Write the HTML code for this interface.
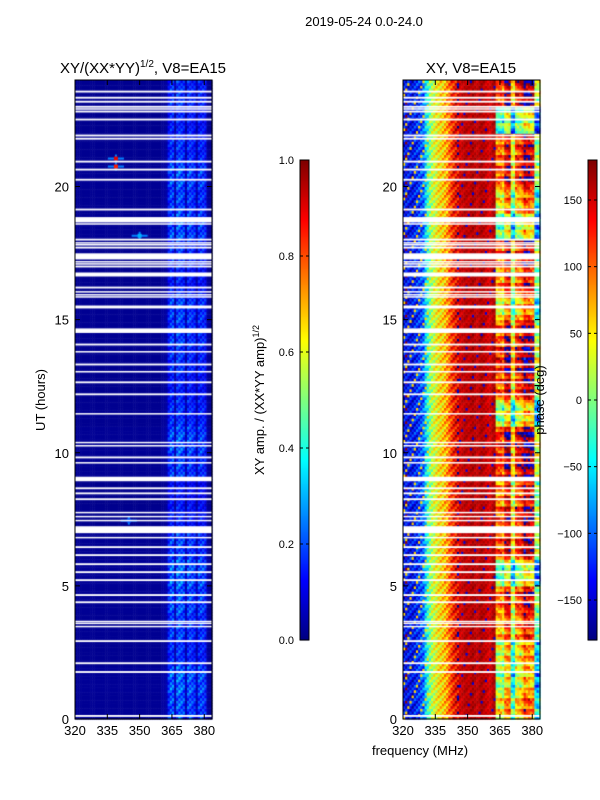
<!DOCTYPE html>
<html><head><meta charset="utf-8"><style>
body{margin:0;background:#fff;width:600px;height:800px;overflow:hidden;font-family:"Liberation Sans",sans-serif}
#root{position:relative;width:600px;height:800px}
canvas{position:absolute;left:0;top:0}
svg{position:absolute;left:0;top:0}
</style></head><body>
<div id="root">
<canvas id="cv" width="600" height="800"></canvas>
<svg id="sv" width="600" height="800">
<text x="364" y="26" font-size="13" text-anchor="middle">2019-05-24 0.0-24.0</text>
<text x="143" y="73" font-size="15" text-anchor="middle">XY/(XX*YY)<tspan font-size="10" dy="-6">1/2</tspan><tspan dy="6">, V8=EA15</tspan></text>
<text x="471" y="73" font-size="15" text-anchor="middle">XY, V8=EA15</text>
<text transform="translate(45,400) rotate(-90)" font-size="13" text-anchor="middle">UT (hours)</text>
<text x="420" y="755" font-size="13" text-anchor="middle">frequency (MHz)</text>
<text transform="translate(264,400) rotate(-90)" font-size="13" text-anchor="middle">XY amp. / (XX*YY amp)<tspan font-size="9" dy="-5">1/2</tspan></text>
<text transform="translate(544,400) rotate(-90)" font-size="13" text-anchor="middle">phase (deg)</text>
<g id="g"></g>
</svg>
</div>
<script>
// ---- data ----
const freqStart = 320, freqEnd = 383.6, freqStep = 1;
const hourStep = 0.1;
// amplitude profile per 1 MHz bin (320..383)
const ampCols = [0.02,0.02,0.02,0.02,0.02,0.02,0.02,0.02,0.02,0.02,0.02,0.02,0.02,0.02,0.02,0.02,
0.02,0.02,0.02,0.02,0.02,0.02,0.02,0.02,0.02,0.02,0.02,0.02,0.02,0.02,0.02,0.02,
0.02,0.02,0.02,0.02,0.02,0.02,0.02,0.02,0.03,0.03,0.04,0.14,0.19,0.18,0.05,0.19,
0.2,0.19,0.17,0.05,0.17,0.18,0.16,0.15,0.05,0.16,0.17,0.16,0.14,0.03,0.02,0.02];
// amplitude modulation per hour (0..23)
const ampHours = [1.1,1.2,0.9,1.0,1.1,1.2,1.0,0.8,0.7,1.0,1.1,0.9,0.8,0.9,1.0,1.0,0.8,0.9,1.1,1.0,1.1,0.9,0.8,0.9];
// phase profile per 1 MHz bin (deg)
const phaseCols = [-140,-145,-140,-135,-140,-130,-125,-120,-110,-100,-60,-30,0,20,30,40,
50,55,60,70,80,100,115,130,140,145,150,155,160,160,155,160,
165,160,155,160,165,160,155,150,150,160,165,40,45,50,30,90,
95,100,-10,-20,60,70,65,80,120,100,110,95,100,-40,-50,-30];
// phase shift for high-frequency band per hour
const phaseHours = [-20,-60,-40,0,30,-80,40,40,20,50,60,-60,40,60,40,-30,20,40,-70,-20,40,30,-90,50];
// RFI spots: [hour, MHz, amp]
const rfiSpots = [[21.05,339,0.9],[20.75,339,0.85],[18.15,350,0.3],[7.45,345,0.2]];
// flagged (blank) rows: [hour, duration]
const gaps = [[23.53,0.07],[23.3,0.07],[23.15,0.07],[22.96,0.07],[22.89,0.05],[22.78,0.07],[22.48,0.07],[21.88,0.07],[21.76,0.07],
[20.9,0.07],[20.6,0.07],[20.22,0.07],[19.1,0.07],[18.65,0.2],[18.57,0.05],[17.97,0.07],[17.86,0.05],[17.79,0.05],[17.67,0.07],
[17.26,0.23],[17.15,0.05],[17.07,0.05],[16.96,0.07],[16.62,0.15],[16.17,0.07],[16.02,0.05],[15.91,0.05],[15.83,0.05],[15.42,0.11],
[14.5,0.17],[14.03,0.07],[13.77,0.05],[13.28,0.07],[13.02,0.05],[12.61,0.07],[12.16,0.07],[11.44,0.05],[10.36,0.05],[10.24,0.05],
[9.79,0.07],[9.6,0.05],[8.93,0.17],[8.63,0.07],[8.44,0.07],[8.22,0.07],[7.73,0.05],[7.58,0.05],[7.43,0.05],[6.98,0.26],[6.79,0.05],
[6.42,0.07],[6.12,0.07],[5.78,0.07],[5.48,0.07],[5.18,0.07],[4.62,0.07],[4.35,0.07],[3.64,0.05],[3.57,0.05],[3.45,0.05],[2.89,0.07],
[2.06,0.07],[1.73,0.07],[0.08,0.07]];
const xTicks = [320,335,350,365,380];
const yTicks = [0,5,10,15,20];
const ampTicks = [0.0,0.2,0.4,0.6,0.8,1.0];
const phaseTicks = [-150,-100,-50,0,50,100,150];

// ---- geometry ----
const panels = [{x0:75,x1:212,kind:'amp'},{x0:403,x1:540,kind:'phase'}];
const yTop=80,yBot=719;
function yS(h){return yBot-(h/24)*(yBot-yTop);}
function xS(p,f){return p.x0+(f-freqStart)/(freqEnd-freqStart)*(p.x1-p.x0);}
function jet(v){v=Math.max(0,Math.min(1,v));
 const r=Math.max(0,Math.min(1,1.5-Math.abs(4*v-3))),g=Math.max(0,Math.min(1,1.5-Math.abs(4*v-2))),b=Math.max(0,Math.min(1,1.5-Math.abs(4*v-1)));
 return `rgb(${r*255|0},${g*255|0},${b*255|0})`;}
function wrap(d){while(d>180)d-=360;while(d<-180)d+=360;return d;}

const ctx=document.getElementById('cv').getContext('2d');
const nRows=Math.round(24/hourStep);
panels.forEach(p=>{
 for(let r=0;r<nRows;r++){
  const h=r*hourStep, hi=Math.floor(h);
  const ya=yS(h+hourStep), yb=yS(h);
  for(let c=0;c<ampCols.length;c++){
   const f=freqStart+c*freqStep;
   const xa=xS(p,f), xb=Math.min(p.x1,xS(p,f+freqStep));
   let v;
   const tex=((r*7+c*3)%5-2);
   if(p.kind==='amp'){ v=ampCols[c]*ampHours[hi]*(1+0.2*tex*(c>42?1:0)); }
   else{ let ph=phaseCols[c]+tex*(c<26?18:6);
     if(c<43 && c>24 && (r*13+c*17)%23===0) ph=-150;
     if(c<12 && (r*3+c*7)%13===0) ph=60;
     if(c>42) ph+=phaseHours[hi]+((r%4)-1.5)*20+((c+r)%6)*8;
     v=(wrap(ph)+180)/360; }
   ctx.fillStyle=jet(v);
   ctx.fillRect(xa,ya,xb-xa+0.5,yb-ya+0.5);
  }
 }
 if(p.kind==='amp') rfiSpots.forEach(s=>{
  const cx=xS(p,s[1]),cy=yS(s[0]);
  ctx.fillStyle=jet(0.25);ctx.fillRect(cx-8,cy-1,16,2);ctx.fillRect(cx-1,cy-4,2,8);
  ctx.fillStyle=jet(s[2]);ctx.fillRect(cx-2,cy-2,4,4);
 });
 ctx.fillStyle='#fff';
 gaps.forEach(g=>{const ya=yS(g[0]+g[1]),yb=yS(g[0]);ctx.fillRect(p.x0,ya,p.x1-p.x0,Math.max(1.5,yb-ya));});
});
// colorbars
function bar(x){for(let i=0;i<480;i++){ctx.fillStyle=jet(1-i/480);ctx.fillRect(x,160+i,9,1.2);}}
bar(300);bar(588);

// ---- svg axes ----
const NS='http://www.w3.org/2000/svg', G=document.getElementById('g');
function el(t,a,txt){const e=document.createElementNS(NS,t);for(const k in a)e.setAttribute(k,a[k]);if(txt!==undefined)e.textContent=txt;G.appendChild(e);return e;}
panels.forEach((p,pi)=>{
 const fr=el('rect',{x:p.x0,y:yTop,width:p.x1-p.x0,height:yBot-yTop,fill:'none',stroke:'#000','stroke-width':1});
 
 
 xTicks.forEach(t=>{const x=xS(p,t);
  el('line',{x1:x,x2:x,y1:yBot,y2:yBot-5,stroke:'#000'});el('line',{x1:x,x2:x,y1:yTop,y2:yTop+5,stroke:'#000'});
  const tl=el('text',{x:x,y:yBot+16,'font-size':13,'text-anchor':'middle'},t);
  
  });
 yTicks.forEach(t=>{const y=yS(t);
  el('line',{x1:p.x0,x2:p.x0+5,y1:y,y2:y,stroke:'#000'});el('line',{x1:p.x1,x2:p.x1-5,y1:y,y2:y,stroke:'#000'});
  const tl=el('text',{x:p.x0-6,y:y+5,'font-size':13,'text-anchor':'end'},t);
  
  });
});
function cbar(x,ticks,lo,hi,fmt,name){
 const r=el('rect',{x:x,y:160,width:9,height:480,fill:'none',stroke:'#000','stroke-width':1});
 
 
 ticks.forEach(t=>{const y=640-(t-lo)/(hi-lo)*480;
  el('line',{x1:x,x2:x+3,y1:y,y2:y,stroke:'#000'});el('line',{x1:x+9,x2:x+6,y1:y,y2:y,stroke:'#000'});
  const tl=el('text',{x:x-6,y:y+4,'font-size':11,'text-anchor':'end'},fmt(t));
  
  });
}
cbar(300,ampTicks,0,1,t=>t.toFixed(1),'amp-colorbar');
cbar(588,phaseTicks,-180,180,t=>t<0?'\u2212'+(-t):String(t),'phase-colorbar');
</script>
</body></html>
